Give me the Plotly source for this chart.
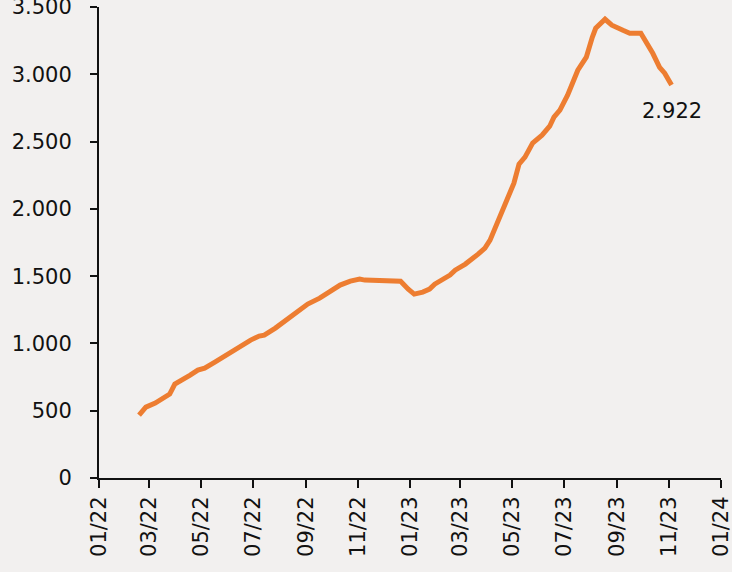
import plotly.graph_objects as go

dates = [
    "2022-02-17", "2022-02-25", "2022-03-08", "2022-03-19", "2022-03-25", "2022-03-31",
    "2022-04-07", "2022-04-18", "2022-04-27", "2022-05-05", "2022-05-17", "2022-06-01",
    "2022-06-15", "2022-06-28", "2022-07-08", "2022-07-14", "2022-07-27", "2022-08-13",
    "2022-08-21", "2022-09-03", "2022-09-17", "2022-09-29", "2022-10-11", "2022-10-23",
    "2022-11-03", "2022-11-09", "2022-11-21", "2022-11-27", "2022-12-14", "2022-12-21",
    "2022-12-30", "2023-01-06", "2023-01-16", "2023-01-24", "2023-01-30", "2023-02-08",
    "2023-02-17", "2023-02-23", "2023-03-07", "2023-03-22", "2023-03-30", "2023-04-05",
    "2023-04-12", "2023-04-20", "2023-04-26", "2023-05-03", "2023-05-09", "2023-05-16",
    "2023-05-25", "2023-06-05", "2023-06-14", "2023-06-19", "2023-06-26", "2023-07-05",
    "2023-07-17", "2023-07-27", "2023-08-03", "2023-08-07", "2023-08-18", "2023-08-26",
    "2023-09-08", "2023-09-16", "2023-09-29", "2023-10-13", "2023-10-21", "2023-10-27",
    "2023-11-04",
]
values = [
    468, 527, 557, 594, 624, 698,
    728, 765, 802, 817, 862, 921,
    981, 1025, 1055, 1062, 1114, 1196,
    1240, 1293, 1337, 1382, 1434, 1463,
    1478, 1471, 1471, 1463, 1463, 1463,
    1404, 1367, 1382, 1404, 1441, 1478,
    1508, 1545, 1590, 1664, 1709, 1768,
    1872, 1991, 2102, 2191, 2333, 2385,
    2490, 2548, 2615, 2682, 2734, 2845,
    3031, 3128, 3276, 3343, 3410, 3366,
    3328, 3306, 3306, 3157, 3053, 3009,
    2922,
]
last_label = "2.922"

bg = "#f2f0ef"
font = dict(family="DejaVu Sans", size=21, color="#111111")

fig = go.Figure()
fig.add_trace(go.Scatter(
    x=dates, y=values, mode="lines",
    line=dict(color="#ED7D31", width=5, shape="linear"),
    hoverinfo="skip", showlegend=False,
))
fig.add_annotation(
    x=dates[-1], y=values[-1], text=last_label, showarrow=False,
    yshift=-26, xshift=0, font=font,
)

fig.update_layout(
    width=732, height=572,
    margin=dict(l=99, r=11, t=7, b=94),
    paper_bgcolor=bg, plot_bgcolor=bg,
    separators=",.",
    font=font,
)
fig.update_xaxes(
    type="date", range=["2022-01-01", "2024-01-01 02:00"],
    tick0="2022-01-01", dtick="M2", tickformat="%m/%y",
    tickangle=-90, showgrid=False, zeroline=False, automargin=False,
    ticklabeloverflow="allow",
    showline=True, linecolor="#111111", linewidth=2,
    ticks="outside", ticklen=8, tickwidth=2, tickcolor="#111111",
    tickfont=font,
)
fig.update_yaxes(
    range=[0, 3501], tickvals=[0, 500, 1000, 1500, 2000, 2500, 3000, 3500],
    tickformat=",d", automargin=False, ticklabeloverflow="allow",
    showgrid=False, zeroline=False, ticklabelstandoff=14,
    showline=True, linecolor="#111111", linewidth=2,
    ticks="outside", ticklen=7, tickwidth=2, tickcolor="#111111",
    tickfont=font,
)

fig.write_html(
    "out.html",
    config={"displayModeBar": False},
    post_script="document.body.style.margin='0';document.body.style.background='#f2f0ef';",
)
